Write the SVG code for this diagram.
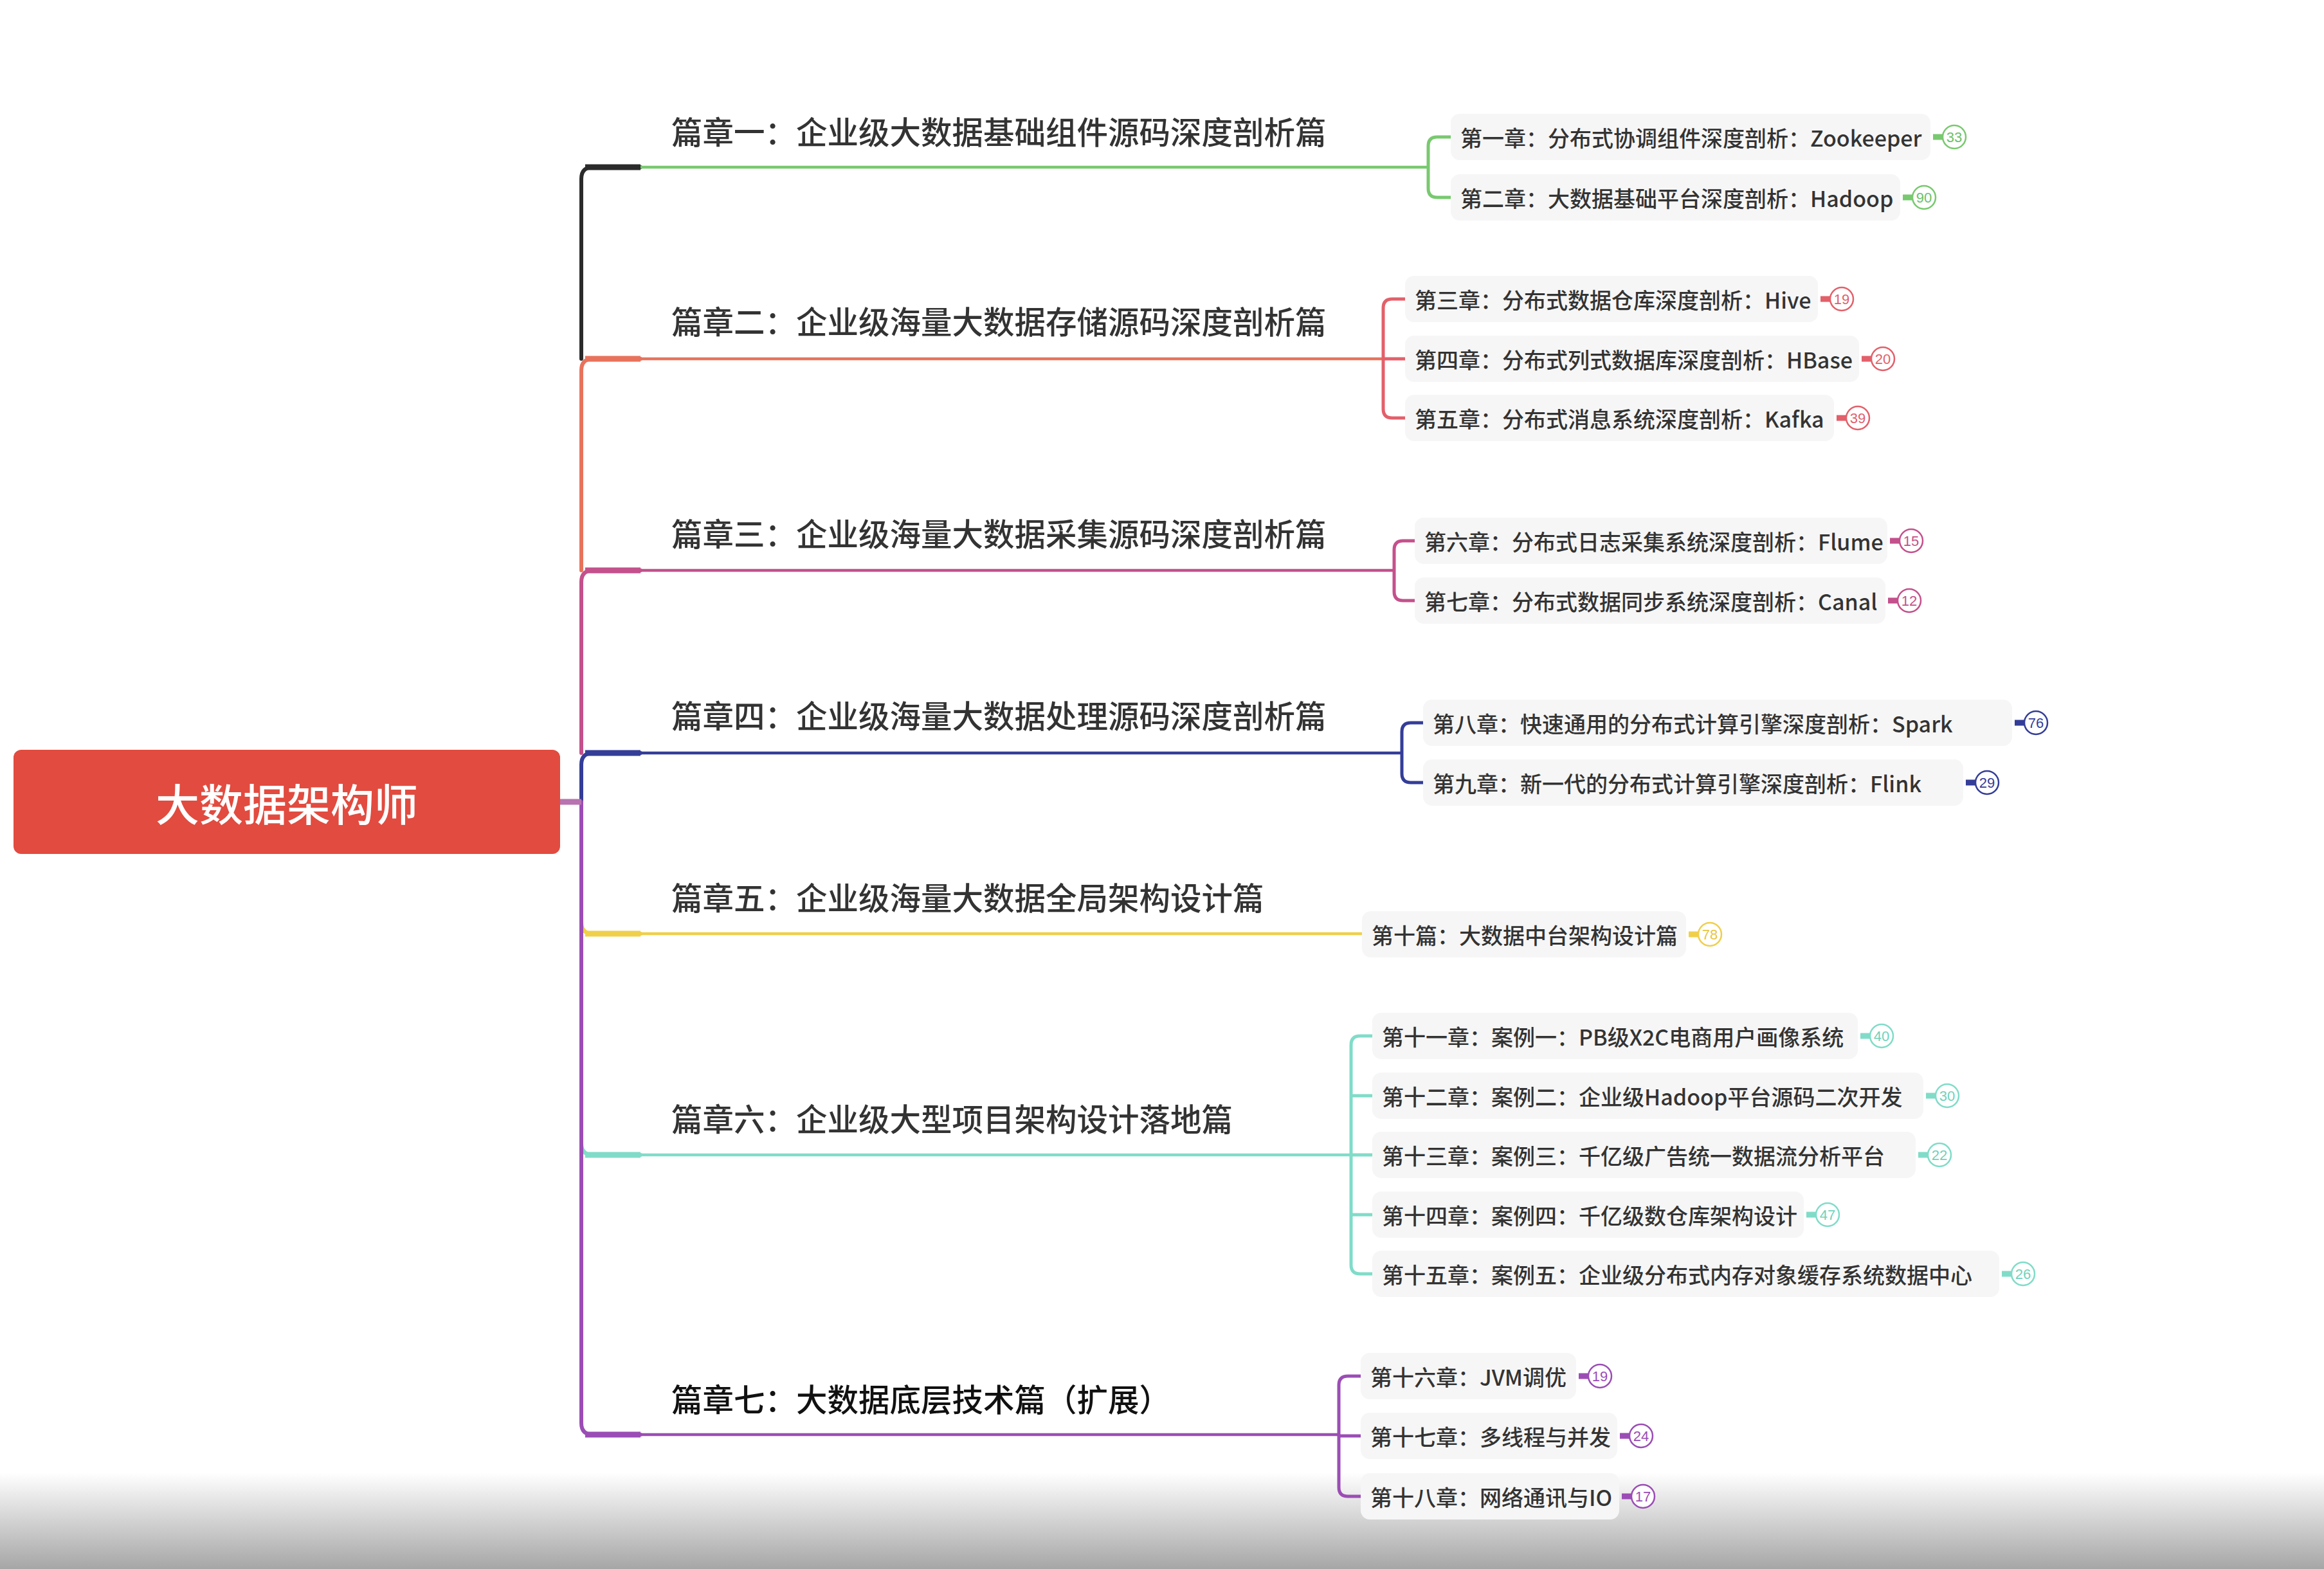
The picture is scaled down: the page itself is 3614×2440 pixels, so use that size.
<svg xmlns="http://www.w3.org/2000/svg" width="3614" height="2440" viewBox="0 0 3614 2440">
<defs>
<linearGradient id="bottomShade" x1="0" y1="0" x2="0" y2="1">
<stop offset="0" stop-color="#ffffff"/>
<stop offset="1" stop-color="#a6a6a6"/>
</linearGradient>
<style>
.bt{font-family:"Noto Sans CJK SC","Noto Sans",sans-serif;font-size:48.5px;font-weight:500;fill:#333;dominant-baseline:central}
.ct{font-family:"Noto Sans CJK SC","Noto Sans",sans-serif;font-size:34px;font-weight:500;fill:#333;dominant-baseline:central}
.box{fill:#f6f6f6}
.bn{font-family:"Liberation Sans",sans-serif;font-size:22px;text-anchor:middle;dominant-baseline:central}
.badge{fill:#fff;stroke-width:2.5}
.trunk{fill:none;stroke-width:6;stroke-linecap:round}
.stub{fill:none;stroke-width:9}
.ln{fill:none;stroke-width:4.5}
.br{fill:none;stroke-width:5}
.g1{stroke:#78c96f}.f1{fill:#6cc163}
.g2{stroke:#e8735c}.r2{stroke:#e2606a}.f2{fill:#e2606a}
.g3{stroke:#c4508c}.f3{fill:#c4508c}
.g4{stroke:#343d98}.f4{fill:#343d98}
.g5{stroke:#f0cf4a}.f5{fill:#e8c53c}
.g6{stroke:#80dcc8}.f6{fill:#6fd2bc}
.g7{stroke:#9b4db5}.f7{fill:#9b4db5}
</style>
</defs>
<rect x="0" y="0" width="3614" height="2440" fill="#ffffff"/>
<rect x="0" y="2290" width="3614" height="150" fill="url(#bottomShade)"/>

<g id="connectors">
<path class="trunk" stroke="#2b2b2b" d="M996,260 H922 Q904,260 904,278 V558"/>
<path class="stub" stroke="#2b2b2b" d="M910,260 H996"/>
<path class="trunk g2" d="M996,558 H922 Q904,558 904,576 V887"/>
<path class="stub g2" d="M910,558 H996"/>
<path class="trunk g3" d="M996,887 H922 Q904,887 904,905 V1171"/>
<path class="stub g3" d="M910,887 H996"/>
<path class="trunk g4" d="M996,1171 H922 Q904,1171 904,1189 V1247"/>
<path class="stub g4" d="M910,1171 H996"/>
<path class="trunk g5" d="M904,1400 V1434 Q904,1452 922,1452 H996"/>
<path class="stub g5" d="M910,1452 H996"/>
<path class="trunk g6" d="M904,1740 V1778 Q904,1796 922,1796 H996"/>
<path class="stub g6" d="M910,1796 H996"/>
<path class="trunk g7" d="M904,1247 V2213 Q904,2231 922,2231 H996"/>
<path class="stub g7" d="M910,2231 H996"/>
<path class="stub" stroke="#b873b0" d="M871,1247 H904"/>

<path class="ln g1" d="M996,260 H2221"/>
<path class="ln g2" d="M996,558 H2151"/>
<path class="ln g3" d="M996,887 H2168"/>
<path class="ln g4" d="M996,1171 H2180"/>
<path class="ln g5" d="M996,1452 H2118"/>
<path class="ln g6" d="M996,1796 H2101"/>
<path class="ln g7" d="M996,2231 H2082"/>

<path class="br g1" d="M2256,213 H2235 Q2221,213 2221,227 V293 Q2221,307 2235,307 H2256"/>
<path class="br r2" d="M2185,465 H2165 Q2151,465 2151,479 V636 Q2151,650 2165,650 H2185 M2151,558 H2185"/>
<path class="br g3" d="M2200,841 H2182 Q2168,841 2168,855 V920 Q2168,934 2182,934 H2200"/>
<path class="br g4" d="M2213,1124 H2194 Q2180,1124 2180,1138 V1203 Q2180,1217 2194,1217 H2213"/>
<path class="br g6" d="M2134,1611 H2115 Q2101,1611 2101,1625 V1967 Q2101,1981 2115,1981 H2134 M2101,1704 H2134 M2101,1796 H2134 M2101,1889 H2134"/>
<path class="br g7" d="M2116,2140 H2096 Q2082,2140 2082,2154 V2313 Q2082,2327 2096,2327 H2116 M2082,2233 H2116"/>
</g>

<g id="root">
<rect x="21" y="1166" width="850" height="162" rx="12" fill="#e24b3f"/>
<text x="446" y="1247" font-family="'Noto Sans CJK SC','Noto Sans',sans-serif" font-size="68" font-weight="500" fill="#ffffff" text-anchor="middle" dominant-baseline="central">大数据架构师</text>
</g>

<g id="branch1"><text class="bt" x="1044" y="203">篇章一：企业级大数据基础组件源码深度剖析篇</text></g>
<g id="branch2"><text class="bt" x="1044" y="498">篇章二：企业级海量大数据存储源码深度剖析篇</text></g>
<g id="branch3"><text class="bt" x="1044" y="828">篇章三：企业级海量大数据采集源码深度剖析篇</text></g>
<g id="branch4"><text class="bt" x="1044" y="1111">篇章四：企业级海量大数据处理源码深度剖析篇</text></g>
<g id="branch5"><text class="bt" x="1044" y="1394">篇章五：企业级海量大数据全局架构设计篇</text></g>
<g id="branch6"><text class="bt" x="1044" y="1738">篇章六：企业级大型项目架构设计落地篇</text></g>
<g id="branch7"><text class="bt" x="1044" y="2174" style="fill:#111">篇章七：大数据底层技术篇（扩展）</text></g>

<g id="ch1"><rect class="box" x="2256" y="177" width="746" height="72" rx="14"/><text class="ct" x="2271" y="213">第一章：分布式协调组件深度剖析：Zookeeper</text><path class="stub g1" d="M3006,213 H3021"/><circle class="badge g1" cx="3039" cy="213" r="18"/><text class="bn f1" x="3039" y="213">33</text></g>
<g id="ch2"><rect class="box" x="2256" y="271" width="699" height="72" rx="14"/><text class="ct" x="2271" y="307">第二章：大数据基础平台深度剖析：Hadoop</text><path class="stub g1" d="M2959,307 H2974"/><circle class="badge g1" cx="2992" cy="307" r="18"/><text class="bn f1" x="2992" y="307">90</text></g>

<g id="ch3"><rect class="box" x="2185" y="429" width="642" height="72" rx="14"/><text class="ct" x="2200" y="465">第三章：分布式数据仓库深度剖析：Hive</text><path class="stub r2" d="M2831,465 H2846"/><circle class="badge r2" cx="2864" cy="465" r="18"/><text class="bn f2" x="2864" y="465">19</text></g>
<g id="ch4"><rect class="box" x="2185" y="522" width="706" height="72" rx="14"/><text class="ct" x="2200" y="558">第四章：分布式列式数据库深度剖析：HBase</text><path class="stub r2" d="M2895,558 H2910"/><circle class="badge r2" cx="2928" cy="558" r="18"/><text class="bn f2" x="2928" y="558">20</text></g>
<g id="ch5"><rect class="box" x="2185" y="614" width="667" height="72" rx="14"/><text class="ct" x="2200" y="650">第五章：分布式消息系统深度剖析：Kafka</text><path class="stub r2" d="M2856,650 H2871"/><circle class="badge r2" cx="2889" cy="650" r="18"/><text class="bn f2" x="2889" y="650">39</text></g>

<g id="ch6"><rect class="box" x="2200" y="805" width="735" height="72" rx="14"/><text class="ct" x="2215" y="841">第六章：分布式日志采集系统深度剖析：Flume</text><path class="stub g3" d="M2939,841 H2954"/><circle class="badge g3" cx="2972" cy="841" r="18"/><text class="bn f3" x="2972" y="841">15</text></g>
<g id="ch7"><rect class="box" x="2200" y="898" width="732" height="72" rx="14"/><text class="ct" x="2215" y="934">第七章：分布式数据同步系统深度剖析：Canal</text><path class="stub g3" d="M2936,934 H2951"/><circle class="badge g3" cx="2969" cy="934" r="18"/><text class="bn f3" x="2969" y="934">12</text></g>

<g id="ch8"><rect class="box" x="2213" y="1088" width="916" height="72" rx="14"/><text class="ct" x="2228" y="1124">第八章：快速通用的分布式计算引擎深度剖析：Spark</text><path class="stub g4" d="M3133,1124 H3148"/><circle class="badge g4" cx="3166" cy="1124" r="18"/><text class="bn f4" x="3166" y="1124">76</text></g>
<g id="ch9"><rect class="box" x="2213" y="1181" width="840" height="72" rx="14"/><text class="ct" x="2228" y="1217">第九章：新一代的分布式计算引擎深度剖析：Flink</text><path class="stub g4" d="M3057,1217 H3072"/><circle class="badge g4" cx="3090" cy="1217" r="18"/><text class="bn f4" x="3090" y="1217">29</text></g>

<g id="ch10"><rect class="box" x="2118" y="1417" width="504" height="72" rx="14"/><text class="ct" x="2133" y="1453">第十篇：大数据中台架构设计篇</text><path class="stub g5" d="M2626,1453 H2641"/><circle class="badge g5" cx="2659" cy="1453" r="18"/><text class="bn f5" x="2659" y="1453">78</text></g>

<g id="ch11"><rect class="box" x="2134" y="1575" width="755" height="72" rx="14"/><text class="ct" x="2149" y="1611">第十一章：案例一：PB级X2C电商用户画像系统</text><path class="stub g6" d="M2893,1611 H2908"/><circle class="badge g6" cx="2926" cy="1611" r="18"/><text class="bn f6" x="2926" y="1611">40</text></g>
<g id="ch12"><rect class="box" x="2134" y="1668" width="857" height="72" rx="14"/><text class="ct" x="2149" y="1704">第十二章：案例二：企业级Hadoop平台源码二次开发</text><path class="stub g6" d="M2995,1704 H3010"/><circle class="badge g6" cx="3028" cy="1704" r="18"/><text class="bn f6" x="3028" y="1704">30</text></g>
<g id="ch13"><rect class="box" x="2134" y="1760" width="845" height="72" rx="14"/><text class="ct" x="2149" y="1796">第十三章：案例三：千亿级广告统一数据流分析平台</text><path class="stub g6" d="M2983,1796 H2998"/><circle class="badge g6" cx="3016" cy="1796" r="18"/><text class="bn f6" x="3016" y="1796">22</text></g>
<g id="ch14"><rect class="box" x="2134" y="1853" width="671" height="72" rx="14"/><text class="ct" x="2149" y="1889">第十四章：案例四：千亿级数仓库架构设计</text><path class="stub g6" d="M2809,1889 H2824"/><circle class="badge g6" cx="2842" cy="1889" r="18"/><text class="bn f6" x="2842" y="1889">47</text></g>
<g id="ch15"><rect class="box" x="2134" y="1945" width="975" height="72" rx="14"/><text class="ct" x="2149" y="1981">第十五章：案例五：企业级分布式内存对象缓存系统数据中心</text><path class="stub g6" d="M3113,1981 H3128"/><circle class="badge g6" cx="3146" cy="1981" r="18"/><text class="bn f6" x="3146" y="1981">26</text></g>

<g id="ch16"><rect class="box" x="2116" y="2104" width="335" height="72" rx="14"/><text class="ct" x="2131" y="2140">第十六章：JVM调优</text><path class="stub g7" d="M2455,2140 H2470"/><circle class="badge g7" cx="2488" cy="2140" r="18"/><text class="bn f7" x="2488" y="2140">19</text></g>
<g id="ch17"><rect class="box" x="2116" y="2197" width="399" height="72" rx="14"/><text class="ct" x="2131" y="2233">第十七章：多线程与并发</text><path class="stub g7" d="M2519,2233 H2534"/><circle class="badge g7" cx="2552" cy="2233" r="18"/><text class="bn f7" x="2552" y="2233">24</text></g>
<g id="ch18"><rect class="box" x="2116" y="2291" width="402" height="72" rx="14"/><text class="ct" x="2131" y="2327">第十八章：网络通讯与IO</text><path class="stub g7" d="M2522,2327 H2537"/><circle class="badge g7" cx="2555" cy="2327" r="18"/><text class="bn f7" x="2555" y="2327">17</text></g>
</svg>
